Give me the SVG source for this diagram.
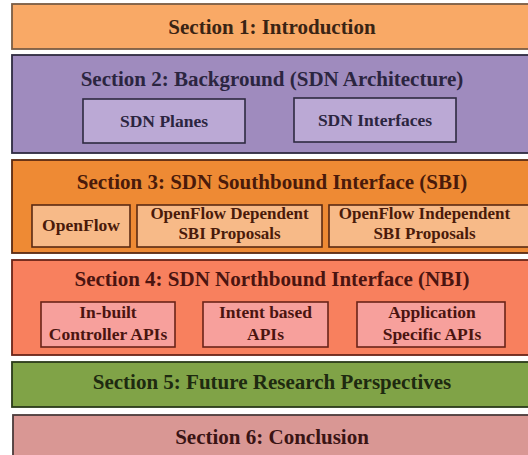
<svg xmlns="http://www.w3.org/2000/svg" width="528" height="455" viewBox="0 0 528 455">
<style>
text{font-family:"Liberation Serif","Times New Roman",serif;font-weight:bold;text-anchor:middle}
.t{font-size:21px}
.s{font-size:17.5px}
.s2{font-size:17px}
.sec{stroke-width:1.8}
.sub{stroke-width:1.6}
</style>
<rect width="528" height="455" fill="#ffffff"/>
<g id="section1">
<rect class="sec" x="12" y="4" width="524" height="45" fill="#F9A966" stroke="#7a5c44"/>
<text class="t" x="272" y="34" fill="#3a2414">Section 1: Introduction</text>
</g>
<g id="section2">
<rect class="sec" x="12" y="55" width="524" height="98" fill="#9F8BBE" stroke="#2e2a40"/>
<text class="t" x="272" y="86" fill="#2b2540">Section 2: Background (SDN Architecture)</text>
<g id="sdn-planes">
<rect class="sub" x="83" y="99" width="162" height="44" fill="#BBA9D5" stroke="#2e2a40"/>
<text class="s" x="164" y="127" fill="#2b2540">SDN Planes</text>
</g>
<g id="sdn-interfaces">
<rect class="sub" x="294" y="98" width="162" height="44" fill="#BBA9D5" stroke="#2e2a40"/>
<text class="s" x="375" y="126" fill="#2b2540">SDN Interfaces</text>
</g>
</g>
<g id="section3">
<rect class="sec" x="12" y="160" width="524" height="93" fill="#EE8A34" stroke="#5a2a12"/>
<text class="t" x="272" y="189" fill="#4a1a0a">Section 3: SDN Southbound Interface (SBI)</text>
<g id="openflow">
<rect class="sub" x="32" y="205" width="98" height="42" fill="#F7BA88" stroke="#5a2a12"/>
<text class="s" x="81" y="231" fill="#4a1a0a">OpenFlow</text>
</g>
<g id="of-dependent">
<rect class="sub" x="137" y="205" width="185" height="42" fill="#F7BA88" stroke="#5a2a12"/>
<text class="s2" x="229.5" y="219" fill="#4a1a0a">OpenFlow Dependent</text>
<text class="s2" x="229.5" y="238.5" fill="#4a1a0a">SBI Proposals</text>
</g>
<g id="of-independent">
<rect class="sub" x="329" y="205" width="204" height="42" fill="#F7BA88" stroke="#5a2a12"/>
<text class="s2" x="424.5" y="219" fill="#4a1a0a">OpenFlow Independent</text>
<text class="s2" x="424.5" y="238.5" fill="#4a1a0a">SBI Proposals</text>
</g>
</g>
<g id="section4">
<rect class="sec" x="12" y="260" width="524" height="95" fill="#F8805E" stroke="#6a2418"/>
<text class="t" x="272" y="286" fill="#4a1410">Section 4: SDN Northbound Interface (NBI)</text>
<g id="inbuilt">
<rect class="sub" x="41" y="302" width="134" height="45" fill="#F7A09C" stroke="#6a2418"/>
<text class="s" x="108" y="318" fill="#4a1410">In-built</text>
<text class="s" x="108" y="340" fill="#4a1410">Controller APIs</text>
</g>
<g id="intent">
<rect class="sub" x="203" y="302" width="125" height="45" fill="#F7A09C" stroke="#6a2418"/>
<text class="s" x="265.5" y="318" fill="#4a1410">Intent based</text>
<text class="s" x="265.5" y="340" fill="#4a1410">APIs</text>
</g>
<g id="application">
<rect class="sub" x="357" y="302" width="148" height="45" fill="#F7A09C" stroke="#6a2418"/>
<text class="s" x="432" y="318" fill="#4a1410">Application</text>
<text class="s" x="432" y="340" fill="#4a1410">Specific APIs</text>
</g>
</g>
<g id="section5">
<rect class="sec" x="12" y="362" width="524" height="45" fill="#80A347" stroke="#2a3a1a"/>
<text class="t" x="272" y="389" fill="#1e2a10">Section 5: Future Research Perspectives</text>
</g>
<g id="section6">
<rect class="sec" x="13" y="415" width="524" height="50" fill="#D99794" stroke="#4a3a3a"/>
<text class="t" x="272" y="444" fill="#3a1414">Section 6: Conclusion</text>
</g>
<g id="connectors"/>
</svg>
